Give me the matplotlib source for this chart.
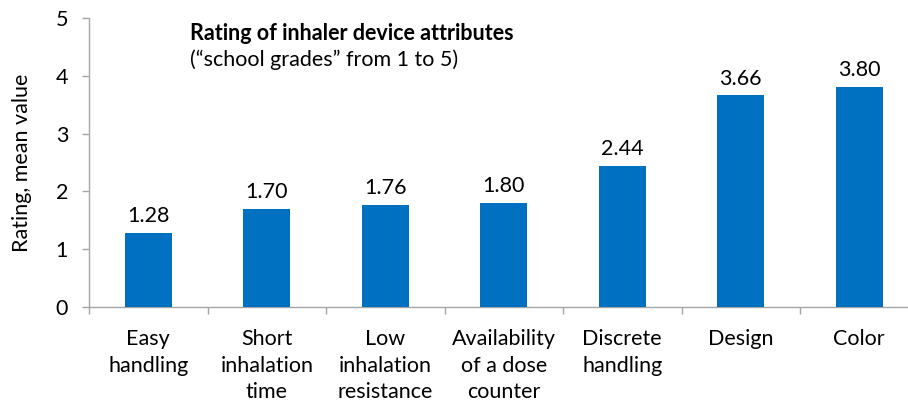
import matplotlib
matplotlib.use("Agg")
import matplotlib.pyplot as plt

categories = ["Easy\nhandling", "Short\ninhalation\ntime", "Low\ninhalation\nresistance",
              "Availability\nof a dose\ncounter", "Discrete\nhandling", "Design", "Color"]
values = [1.28, 1.70, 1.76, 1.80, 2.44, 3.66, 3.80]
yticks = [0, 1, 2, 3, 4, 5]

plt.rcParams['font.family'] = ['Lato', 'DejaVu Sans']
FS = 15.5
W, H = 908, 403
fig = plt.figure(figsize=(W / 100, H / 100), dpi=100)
x0, x1 = 89, 89 + 7 * 118.5
y0, y1 = 307, 18
ax = fig.add_axes([x0 / W, 1 - y0 / H, (x1 - x0) / W, (y0 - y1) / H])

xs = list(range(len(categories)))
ax.bar(xs, values, width=0.40, color="#0070C0", zorder=3)
for x, v in zip(xs, values):
    ax.annotate(f"{v:.2f}", (x, v), xytext=(0, 5), textcoords="offset points",
                ha="center", va="bottom", fontsize=FS, color="black")

ax.set_xlim(-0.5, len(categories) - 0.5)
ax.set_ylim(0, 5)
ax.set_yticks(yticks)
ax.set_yticklabels([str(t) for t in yticks], fontsize=FS)
ax.set_xticks(xs)
ax.set_xticklabels(categories, fontsize=FS, linespacing=1.4)
ax.tick_params(axis="x", length=0, pad=16)
ax.set_xticks([i - 0.5 for i in range(len(categories) + 1)], minor=True)
ax.tick_params(axis="x", which="minor", length=5, color="#A6A6A6", width=1)
ax.tick_params(axis="y", length=5, color="#A6A6A6", width=1, pad=10)

for s in ["top", "right"]:
    ax.spines[s].set_visible(False)
for s in ["left", "bottom"]:
    ax.spines[s].set_color("#A6A6A6")
    ax.spines[s].set_linewidth(1)

ax.set_ylabel("Rating, mean value", fontsize=FS, labelpad=17)

fig.text(190 / W, 1 - 33 / H, "Rating of inhaler device attributes", fontsize=FS,
         fontweight="bold", ha="left", va="center")
fig.text(190 / W, 1 - 60 / H, "(\u201cschool grades\u201d from 1 to 5)", fontsize=FS,
         ha="left", va="center")

fig.savefig("out.png", dpi=100)
